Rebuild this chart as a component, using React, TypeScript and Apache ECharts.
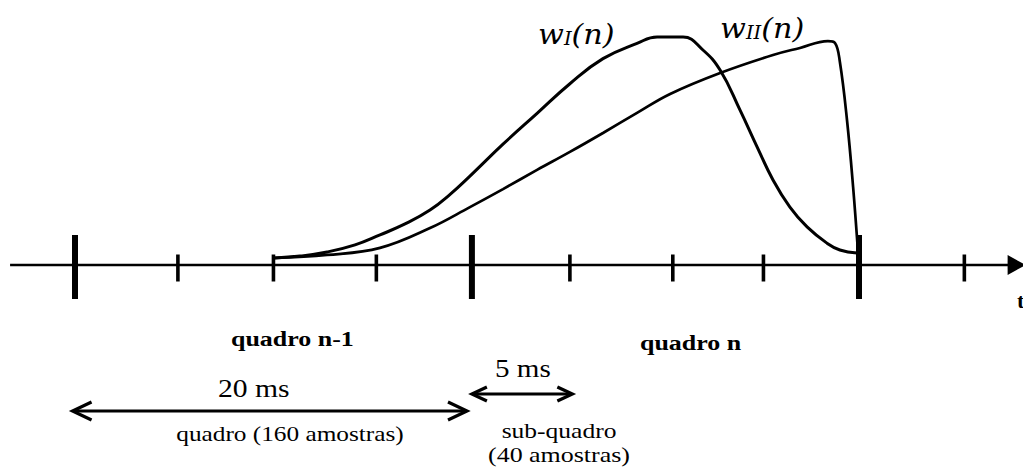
import React, { useEffect, useRef } from "react";
import * as echarts from "echarts";

// Positions along the time axis are in samples (0 = start of "quadro n"),
// window amplitudes are relative to the window peak (1 = peak).
const majorTicks = [-160, 2, 160];
const minorTicks = [-118, -79, -37, 42, 84, 121, 203];
const timeAxisSpan = [-186.5, 228];
const frameSpan = [-161, 0]; // quadro (160 amostras)
const subframeSpan = [2, 43]; // sub-quadro (40 amostras)

const wIPoints: [number, number][] = [
  [-78.4, 0.031], [-68.2, 0.039], [-57.1, 0.057], [-45.7, 0.088], [-35.5, 0.132],
  [-25.3, 0.18], [-15.1, 0.241], [-6.9, 0.31], [1.2, 0.39], [14.7, 0.53],
  [28.6, 0.665], [42.0, 0.795], [55.5, 0.905], [69.4, 0.972], [77.6, 1.0],
  [88.2, 1.0], [96.3, 0.943], [103.3, 0.855], [111.4, 0.68], [118.4, 0.518],
  [124.9, 0.373], [131.8, 0.254], [138.8, 0.167], [146.9, 0.096], [152.2, 0.066],
  [159.2, 0.053],
];

const wIIPoints: [number, number][] = [
  [-78.4, 0.031], [-57.1, 0.044], [-35.5, 0.075], [-15.1, 0.162], [1.2, 0.254],
  [14.7, 0.333], [28.6, 0.417], [42.0, 0.496], [55.5, 0.579], [69.4, 0.667],
  [82.9, 0.75], [103.3, 0.842], [124.9, 0.921], [135.9, 0.952], [147.3, 0.982],
  [150.2, 0.974], [152.2, 0.89], [155.1, 0.636], [157.6, 0.342], [159.6, 0.057],
];

const frameLabels = ["quadro n-1", "quadro n"];
const spanLabels = ["20 ms", "5 ms"];
const spanNotes = ["quadro (160 amostras)", "sub-quadro", "(40 amostras)"];
const windowNames = ["I", "II"];

// layout
const WIDTH = 1023;
const HEIGHT = 470;
const PX_PER_SAMPLE = 2.45;
const FIRST_MAJOR_PX = 75;
const AXIS_PX = 265;
const PX_PER_UNIT = 228;
const SERIF = "Liberation Serif";

export default function App() {
  const ref = useRef<HTMLDivElement>(null);

  useEffect(() => {
    if (!ref.current) return;
    const chart = echarts.init(ref.current, null, { renderer: "svg" });

    const xMin = majorTicks[0] - FIRST_MAJOR_PX / PX_PER_SAMPLE;
    const xMax = xMin + WIDTH / PX_PER_SAMPLE;
    const yMax = AXIS_PX / PX_PER_UNIT;
    const yMin = (AXIS_PX - HEIGHT) / PX_PER_UNIT;

    const tickData = [
      ...majorTicks.map((t) => [t, 0, 1]),
      ...minorTicks.map((t) => [t, 0, 0]),
    ];

    const arrowLevels = [411, 394];
    const arrowHeads = [
      { len: 19, half: 9 },
      { len: 15, half: 7 },
    ];

    const chevron = (x: number, y: number, dir: number, len: number, half: number) => ({
      type: "polyline",
      shape: { points: [[x + dir * len, y - half], [x, y], [x + dir * len, y + half]] },
      style: { stroke: "#000", lineWidth: 3.2, fill: null, lineJoin: "miter", lineCap: "butt" },
    });

    const wLabel = (sub: string) => ({
      text: `{a|w}{b|${sub}}{a|(n)}`,
      rich: {
        a: {
          fontFamily: "DejaVu Serif",
          fontStyle: "italic",
          fontSize: 28,
          lineHeight: 34,
          fill: "#000",
          color: "#000",
          verticalAlign: "bottom",
        },
        b: {
          fontFamily: "DejaVu Serif",
          fontStyle: "italic",
          fontSize: 18,
          lineHeight: 14,
          fill: "#000",
          color: "#000",
          verticalAlign: "bottom",
        },
      },
      fill: "#000",
      align: "left",
      textAlign: "left",
      verticalAlign: "middle",
      textVerticalAlign: "middle",
    });

    const txt = (
      text: string,
      x: number,
      y: number,
      size: number,
      weight: string,
      align: string,
      scaleX: number
    ) => ({
      type: "text",
      x,
      y,
      scaleX,
      silent: true,
      style: {
        text,
        fontFamily: SERIF,
        fontSize: size,
        fontWeight: weight,
        fill: "#000",
        align,
        textAlign: align,
        verticalAlign: "middle",
        textVerticalAlign: "middle",
      },
    });

    chart.setOption({
      animation: false,
      backgroundColor: "#fff",
      grid: { left: 0, right: 0, top: 0, bottom: 0, containLabel: false },
      xAxis: { type: "value", min: xMin, max: xMax, show: false },
      yAxis: { type: "value", min: yMin, max: yMax, show: false },
      series: [
        {
          type: "custom",
          name: "eixo",
          coordinateSystem: "cartesian2d",
          silent: true,
          data: [[timeAxisSpan[0], 0, timeAxisSpan[1]]],
          encode: { x: [0, 2], y: 1 },
          renderItem: (_p: any, api: any) => {
            const a = api.coord([api.value(0), api.value(1)]);
            const b = api.coord([api.value(2), api.value(1)]);
            return {
              type: "group",
              children: [
                {
                  type: "line",
                  shape: { x1: a[0], y1: a[1], x2: b[0] - 10, y2: b[1] },
                  style: { stroke: "#000", lineWidth: 2.6 },
                },
                {
                  type: "polygon",
                  shape: { points: [[b[0], b[1]], [b[0] - 18, b[1] - 10], [b[0] - 18, b[1] + 10]] },
                  style: { fill: "#000" },
                },
              ],
            };
          },
        },
        {
          type: "custom",
          name: "marcas",
          coordinateSystem: "cartesian2d",
          silent: true,
          data: tickData,
          encode: { x: 0, y: 1 },
          renderItem: (_p: any, api: any) => {
            const p = api.coord([api.value(0), api.value(1)]);
            const major = api.value(2) === 1;
            const w = major ? 6 : 3.6;
            const up = major ? 30 : 10.5;
            const down = major ? 34 : 16.5;
            return {
              type: "rect",
              shape: { x: p[0] - w / 2, y: p[1] - up, width: w, height: up + down },
              style: { fill: "#000" },
            };
          },
        },
        {
          type: "custom",
          name: "duracoes",
          coordinateSystem: "cartesian2d",
          silent: true,
          data: [
            [frameSpan[0], 0, frameSpan[1]],
            [subframeSpan[0], 0, subframeSpan[1]],
          ],
          encode: { x: [0, 2], y: 1 },
          renderItem: (params: any, api: any) => {
            const a = api.coord([api.value(0), 0]);
            const b = api.coord([api.value(2), 0]);
            const y = arrowLevels[params.dataIndex];
            const h = arrowHeads[params.dataIndex];
            return {
              type: "group",
              children: [
                {
                  type: "line",
                  shape: { x1: a[0] + 1, y1: y, x2: b[0] - 1, y2: y },
                  style: { stroke: "#000", lineWidth: 3 },
                },
                chevron(a[0], y, 1, h.len, h.half),
                chevron(b[0], y, -1, h.len, h.half),
              ],
            };
          },
        },
        {
          type: "line",
          name: "wI(n)",
          data: wIPoints,
          smooth: 0.45,
          showSymbol: false,
          symbol: "none",
          silent: true,
          lineStyle: { color: "#000", width: 3 },
        },
        {
          type: "line",
          name: "wII(n)",
          data: wIIPoints,
          smooth: 0.4,
          showSymbol: false,
          symbol: "none",
          silent: true,
          lineStyle: { color: "#000", width: 2.7 },
        },
      ],
      graphic: [
        { type: "text", x: 538, y: 31, scaleX: 1.08, silent: true, style: wLabel(windowNames[0]) },
        { type: "text", x: 720, y: 25, scaleX: 1.08, silent: true, style: wLabel(windowNames[1]) },
        txt(frameLabels[0], 231, 339, 22, "bold", "left", 1.18),
        txt(frameLabels[1], 640, 343, 22, "bold", "left", 1.18),
        txt(spanLabels[0], 218, 388, 26, "normal", "left", 1.14),
        txt(spanLabels[1], 495, 368, 26, "normal", "left", 1.12),
        txt(spanNotes[0], 290, 434, 22, "normal", "center", 1.15),
        txt(spanNotes[1], 559, 431, 22, "normal", "center", 1.16),
        txt(spanNotes[2], 559, 455, 22, "normal", "center", 1.18),
        txt("t", 1017, 300, 22, "bold", "left", 1),
      ],
    });

    return () => chart.dispose();
  }, []);

  return (
    <div
      ref={ref}
      style={{ position: "fixed", left: 0, top: 0, width: WIDTH, height: HEIGHT, background: "#fff" }}
    />
  );
}
